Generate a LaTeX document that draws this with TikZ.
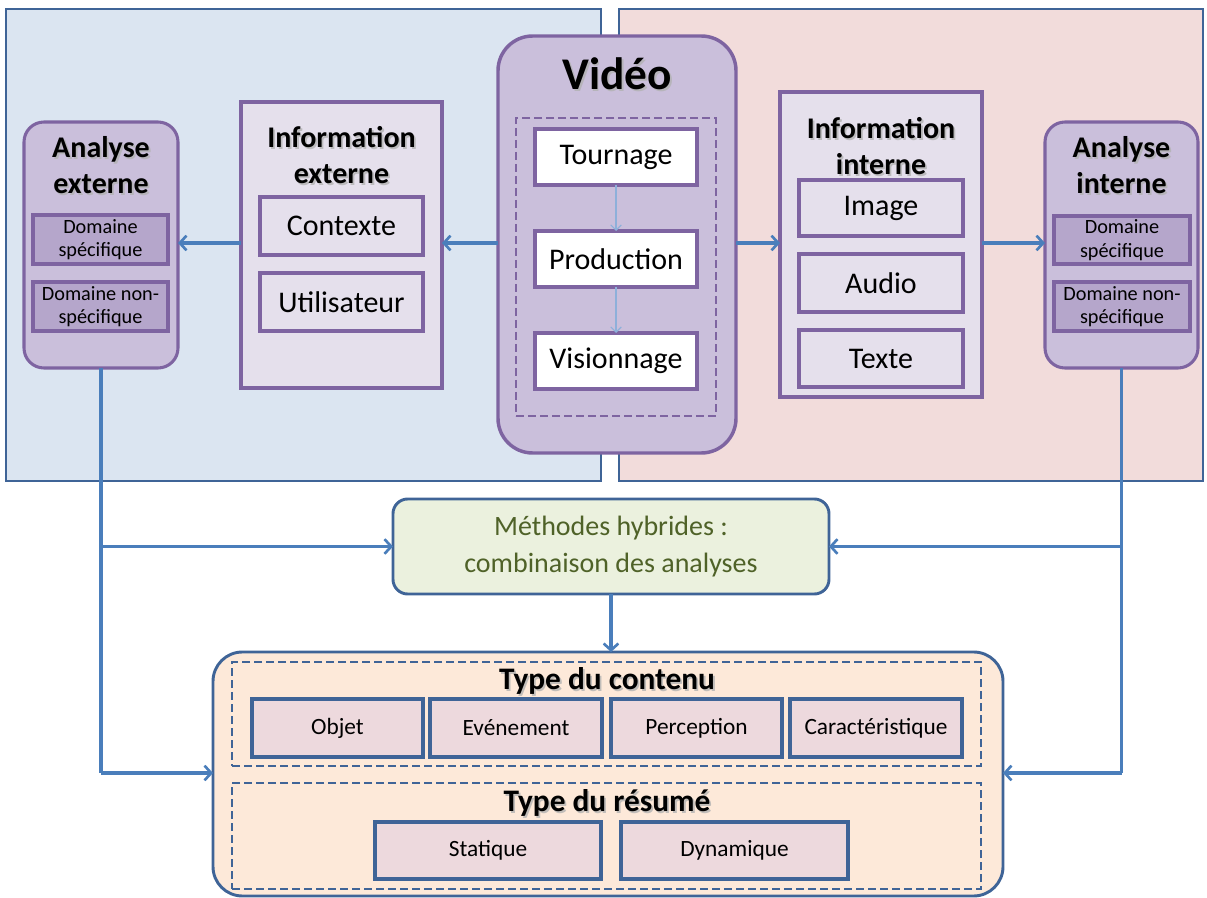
\documentclass[tikz,border=0pt]{standalone}
\usepackage{fontspec}
\setmainfont{Carlito}
\usetikzlibrary{arrows.meta}
\definecolor{panelblue}{HTML}{DBE5F1}
\definecolor{panelpink}{HTML}{F2DCDB}
\definecolor{frameblue}{HTML}{3F6497}
\definecolor{violetline}{HTML}{7E64A1}
\definecolor{vidfill}{HTML}{CABFDB}
\definecolor{infofill}{HTML}{E5E0EC}
\definecolor{domfill}{HTML}{B5A6CB}
\definecolor{linkblue}{HTML}{4A7EBB}
\definecolor{thinblue}{HTML}{8EB0DA}
\definecolor{hybfill}{HTML}{EBF1DE}
\definecolor{hybtext}{HTML}{4F6228}
\definecolor{sumfill}{HTML}{FDE9D9}
\definecolor{typefill}{HTML}{EDD9DD}
% rectangle node given by its corners in pixel units
\newcommand\rectnode[7]{\node[#1, minimum width={(#5-#3)*0.75pt}, minimum height={(#6-#4)*0.75pt}] (#2) at ({(#3+#5)/2},{(#4+#6)/2}) {#7};}
% bold heading with a soft grey drop shadow
\newcommand\shadowtitle[5]{%
  \node[#1, text=black!30, opacity=0.8] (#2-sh) at ({#3+1.8},{#4+1.8}) {#5};
  \node[#1] (#2) at (#3,#4) {#5};}
\tikzset{
  panel/.style={draw=frameblue, line width=2pt, inner sep=0pt, outer sep=0pt},
  vidbox/.style={draw=violetline, fill=vidfill, line width=2.6pt, rounded corners=26pt, inner sep=0pt, outer sep=0pt},
  anbox/.style={draw=violetline, fill=vidfill, line width=2.3pt, rounded corners=15pt, inner sep=0pt, outer sep=0pt},
  infobox/.style={draw=violetline, fill=infofill, line width=2.3pt, inner sep=0pt, outer sep=0pt},
  itembox/.style={draw=violetline, fill=infofill, line width=2.3pt, inner sep=0pt, outer sep=0pt, font=\fontsize{22.5}{27}\selectfont},
  stagebox/.style={draw=violetline, fill=white, line width=2.3pt, inner sep=0pt, outer sep=0pt, font=\fontsize{22.5}{27}\selectfont},
  dombox/.style={draw=violetline, fill=domfill, line width=2.3pt, inner sep=0pt, outer sep=0pt, align=center, font=\fontsize{15.2}{17.5}\selectfont},
  dashbox/.style={draw=violetline, dash pattern=on 6pt off 3pt, line width=1.6pt, inner sep=0pt, outer sep=0pt},
  sumdash/.style={draw=frameblue, dash pattern=on 6pt off 3pt, line width=1.8pt, inner sep=0pt, outer sep=0pt},
  typebox/.style={draw=frameblue, fill=typefill, line width=2.4pt, inner sep=0pt, outer sep=0pt, font=\fontsize{17.5}{20}\selectfont},
  hybbox/.style={draw=frameblue, fill=hybfill, line width=2.2pt, rounded corners=11pt, inner sep=0pt, outer sep=0pt, align=center, text=hybtext, font=\fontsize{21}{28}\selectfont},
  sumbox/.style={draw=frameblue, fill=sumfill, line width=2.2pt, rounded corners=22pt, inner sep=0pt, outer sep=0pt},
  title/.style={font=\fontsize{22.5}{27}\bfseries\selectfont, inner sep=0pt, align=center},
  bigtitle/.style={font=\fontsize{34}{40}\bfseries\selectfont, inner sep=0pt},
  sumtitle/.style={font=\fontsize{23.5}{27}\bfseries\selectfont, inner sep=0pt},
  link/.style={draw=linkblue, line width=2.5pt, -{Straight Barb[length=5pt,width=11pt,line width=2pt]}},
  plainlink/.style={draw=linkblue, line width=2.5pt},
  thinlink/.style={draw=thinblue, line width=0.8pt, -{Straight Barb[length=4pt,width=8pt]}},
}
\begin{document}
\begin{tikzpicture}[x=0.75pt,y=-0.75pt]
\useasboundingbox (0,0) rectangle (1207,898);

% two background panels
\rectnode{panel, fill=panelblue}{extpanel}{6}{9}{601}{481}{}
\rectnode{panel, fill=panelpink}{intpanel}{619}{9}{1203}{481}{}

% the video and its three stages
\rectnode{vidbox}{video}{498}{36}{736}{453}{}
\shadowtitle{bigtitle}{vidtitle}{617}{74}{Vidéo}
\rectnode{dashbox}{stages}{516}{118}{716}{416}{}
\rectnode{stagebox}{tournage}{535}{129}{697}{185}{Tournage}
\rectnode{stagebox}{production}{535}{231}{697}{287}{Production}
\rectnode{stagebox}{visionnage}{535}{333}{697}{389}{Visionnage}
\draw[thinlink] (tournage) -- (production);
\draw[thinlink] (production) -- (visionnage);

% external side
\rectnode{infobox}{infoext}{241}{102}{442}{388}{}
\shadowtitle{title}{infoexttitle}{341.5}{155}{Information\\externe}
\rectnode{itembox}{contexte}{260}{197}{423}{255}{Contexte}
\rectnode{itembox}{utilisateur}{260}{273}{423}{331}{Utilisateur}

\rectnode{anbox}{anext}{24}{122}{178}{368}{}
\shadowtitle{title}{anexttitle}{101}{165}{Analyse\\externe}
\rectnode{dombox}{anextspec}{33}{215}{168}{264}{Domaine\\spécifique}
\rectnode{dombox}{anextnon}{33}{282}{168}{331}{Domaine non-\\spécifique}

% internal side
\rectnode{infobox}{infoint}{780}{92}{982}{397}{}
\shadowtitle{title}{infointtitle}{881}{146}{Information\\interne}
\rectnode{itembox}{image}{799}{180}{963}{236}{Image}
\rectnode{itembox}{audio}{799}{254}{963}{312}{Audio}
\rectnode{itembox}{texte}{799}{330}{963}{387}{Texte}

\rectnode{anbox}{anint}{1045}{122}{1198}{368}{}
\shadowtitle{title}{aninttitle}{1121.5}{165}{Analyse\\interne}
\rectnode{dombox}{anintspec}{1054}{216}{1190}{264}{Domaine\\spécifique}
\rectnode{dombox}{anintnon}{1054}{282}{1190}{331}{Domaine non-\\spécifique}

% hybrid methods
\rectnode{hybbox}{hybrid}{393}{499}{829}{594}{Méthodes hybrides :\\combinaison des analyses}

% content and summary types
\rectnode{sumbox}{summary}{213}{652}{1003}{896}{}
\rectnode{sumdash}{contentgrp}{232}{662}{981}{766}{}
\shadowtitle{sumtitle}{contenttitle}{607}{681}{Type du contenu}
\rectnode{typebox}{objet}{252}{699}{423}{757}{Objet}
\rectnode{typebox}{evenement}{430}{699}{602}{757}{Evénement}
\rectnode{typebox}{perception}{611}{699}{782}{757}{Perception}
\rectnode{typebox}{caract}{790}{699}{962}{757}{Caractéristique}
\rectnode{sumdash}{resumegrp}{232}{783}{981}{889}{}
\shadowtitle{sumtitle}{resumetitle}{607}{803}{Type du résumé}
\rectnode{typebox}{statique}{375}{822}{601}{879}{Statique}
\rectnode{typebox}{dynamique}{621}{822}{848}{879}{Dynamique}

% connectors
\draw[link] (video.west |- 0,243) -- (infoext.east |- 0,243);
\draw[link] (infoext.west |- 0,243) -- (anext.east |- 0,243);
\draw[link] (video.east |- 0,243) -- (infoint.west |- 0,243);
\draw[link] (infoint.east |- 0,243) -- (anint.west |- 0,243);

\coordinate (extturn) at (anext.south |- 0,773);
\coordinate (intturn) at (anint.south |- 0,773);
\coordinate (extbranch) at (anext.south |- hybrid.west);
\coordinate (intbranch) at (anint.south |- hybrid.east);
\draw[plainlink] (anext.south) -- (extturn);
\draw[link] (extturn) -- (summary.west |- extturn);
\draw[link] (extbranch) -- (hybrid.west);
\draw[plainlink] (anint.south) -- (intturn);
\draw[link] (intturn) -- (summary.east |- intturn);
\draw[link] (intbranch) -- (hybrid.east);
\draw[link] (hybrid.south) -- (hybrid.south |- summary.north);
\end{tikzpicture}
\end{document}
